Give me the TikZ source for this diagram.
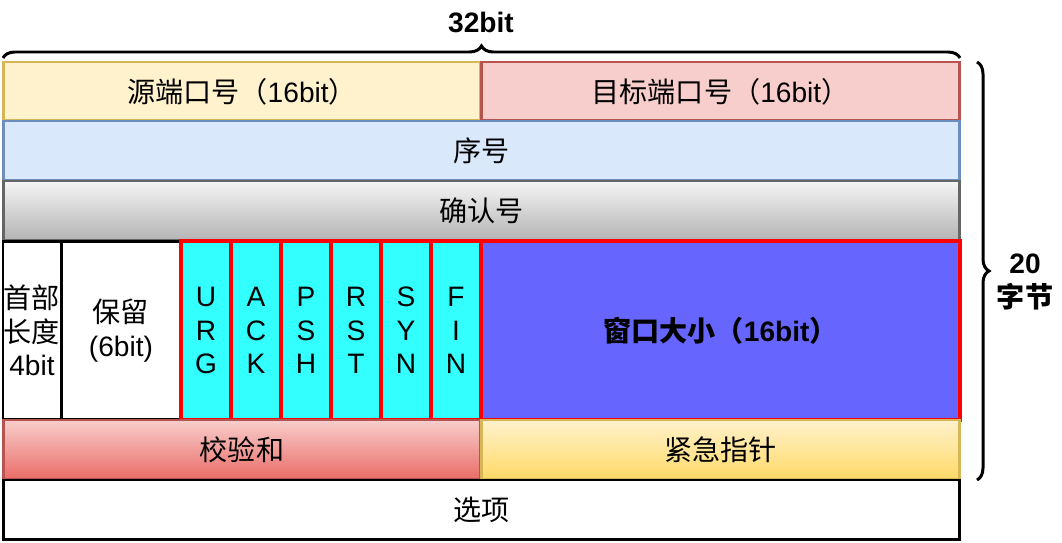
\documentclass[tikz,border=0pt]{standalone}
\usepackage{fontspec}
\setmainfont{Liberation Sans}
\newfontfamily\cjk{Noto Sans CJK SC}
\usetikzlibrary{decorations.pathreplacing}

\definecolor{yfill}{HTML}{FFF2CC}
\definecolor{ydraw}{HTML}{D6B656}
\definecolor{rfill}{HTML}{F8CECC}
\definecolor{rdraw}{HTML}{B85450}
\definecolor{bfill}{HTML}{DAE8FC}
\definecolor{bdraw}{HTML}{6C8EBF}
\definecolor{gtop}{HTML}{F5F5F5}
\definecolor{gbot}{HTML}{B3B3B3}
\definecolor{gdraw}{HTML}{666666}
\definecolor{rbot}{HTML}{EA6B66}
\definecolor{ybot}{HTML}{FFD966}
\definecolor{flagfill}{HTML}{33FFFF}
\definecolor{winfill}{HTML}{6666FF}

\tikzset{
  cell/.style={draw, line width=1.7pt, inner sep=0pt, outer sep=0pt,
    minimum height=1.2cm, align=center,
    font=\fontsize{16}{19}\selectfont},
  flag/.style={cell, draw=red, fill=flagfill, line width=2.4pt,
    minimum width=1cm, minimum height=3.58cm},
  brc/.style={decorate, line width=1.7pt,
    decoration={brace, amplitude=0.24cm}}
}

\begin{document}
\begin{tikzpicture}[x=0.02cm, y=-0.02cm]
\useasboundingbox (0,0) rectangle (1062,543);

% header rows
\node[cell, draw=ydraw, fill=yfill, minimum width=9.56cm, minimum height=1.18cm] (src) at (242,91.5) {{\cjk 源端口号（}16bit{\cjk ）}};
\node[cell, draw=rdraw, fill=rfill, minimum width=9.58cm, minimum height=1.18cm] (dst) at (720.5,91.5) {{\cjk 目标端口号（}16bit{\cjk ）}};
\node[cell, draw=bdraw, fill=bfill, minimum width=19.14cm] (seq) at (481.5,151) {\cjk 序号};
\node[cell, draw=gdraw, top color=gtop, bottom color=gbot, minimum width=19.14cm] (ack) at (481.5,211) {\cjk 确认号};

% offset, reserved
\node[cell, fill=white, minimum width=1.16cm, minimum height=3.58cm] (hlen) at (32,330.5) {{\cjk 首部}\\{\cjk 长度}\\4bit};
\node[cell, fill=white, minimum width=2.4cm, minimum height=3.58cm] (rsv) at (121,330.5) {{\cjk 保留}\\(6bit)};

% flags
\foreach \f/\t [count=\i from 0] in {urg/U\\R\\G, ackf/A\\C\\K, psh/P\\S\\H, rst/R\\S\\T, syn/S\\Y\\N, fin/F\\I\\N}
{
	\node[flag] (\f) at (206+50*\i,330.5) {\t};
}

\node[cell, draw=red, fill=winfill, line width=2.4pt, minimum width=9.58cm, minimum height=3.58cm] (win) at (720.5,330.5) {\bfseries{\cjk 窗口大小（}16bit{\cjk ）}};

% checksum, urgent pointer, options
\node[cell, draw=rdraw, top color=rfill, bottom color=rbot, minimum width=9.56cm] (chk) at (242,450) {\cjk 校验和};
\node[cell, draw=ydraw, top color=yfill, bottom color=ybot, minimum width=9.58cm] (uptr) at (720.5,450) {\cjk 紧急指针};
\node[cell, fill=white, minimum width=19.14cm] (opt) at (481.5,510) {\cjk 选项};

% braces
\coordinate (tl) at (3,58);
\coordinate (tr) at (960,58);
\draw[brc] (tl) -- (tr);
\node[font=\fontsize{16}{19}\selectfont\bfseries] (width) at (481,22) {32bit};

\coordinate (rt) at (977,62);
\coordinate (rb) at (977,480);
\draw[brc] (rt) -- (rb);
\node[align=center, font=\fontsize{16}{19}\selectfont\bfseries] (total) at (1025,282) {20\\{\cjk 字节}};

\end{tikzpicture}
\end{document}
